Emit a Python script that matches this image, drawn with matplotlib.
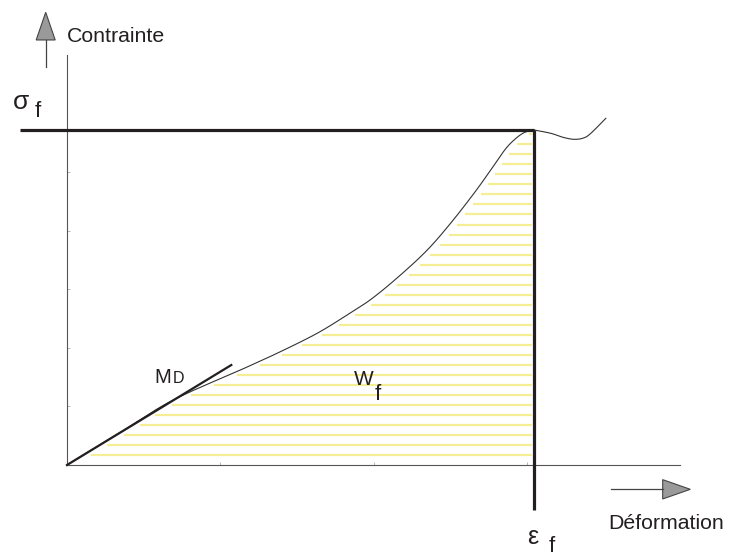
import numpy as np
import matplotlib
matplotlib.use("Agg")
import matplotlib.pyplot as plt
from matplotlib.patches import Polygon

plt.rcParams['font.family'] = ['Liberation Sans', 'DejaVu Sans']

# ---- data (axis units: x ticks 0..4, y ticks 0..7) ----
curve_x = [0.0, 0.346, 0.693, 1.142, 1.392, 1.632, 1.828, 1.990, 2.176, 2.351,
           2.503, 2.656, 2.765, 2.856, 2.917, 2.982, 3.048]
curve_y = [0.0, 0.555, 1.109, 1.633, 1.933, 2.247, 2.560, 2.840, 3.242, 3.669,
           4.125, 4.637, 5.034, 5.375, 5.546, 5.671, 5.717]
tail_x = [3.048, 3.157, 3.240, 3.309, 3.370, 3.418, 3.516]
tail_y = [5.717, 5.660, 5.590, 5.558, 5.580, 5.660, 5.916]
md_x = [0.0, 1.072]
md_y = [0.0, 1.706]
sigma_f = 5.717
eps_f = 3.046
x_ticks = [1, 2, 3]
y_ticks = [1, 2, 3, 4, 5]
stripe_levels = np.arange(1, 34) * 0.171


def smooth(xs, ys, n=20):
    """Catmull-Rom spline through the given points (for drawing only)."""
    p = np.column_stack([xs, ys]).astype(float)
    p = np.vstack([2 * p[0] - p[1], p, 2 * p[-1] - p[-2]])
    out = []
    t = np.linspace(0, 1, n, endpoint=False)[:, None]
    for i in range(1, len(p) - 2):
        p0, p1, p2, p3 = p[i - 1], p[i], p[i + 1], p[i + 2]
        seg = 0.5 * ((2 * p1) + (-p0 + p2) * t + (2 * p0 - 5 * p1 + 4 * p2 - p3) * t ** 2
                     + (-p0 + 3 * p1 - 3 * p2 + p3) * t ** 3)
        out.append(seg)
    out.append(p[-2][None, :])
    out = np.vstack(out)
    return out[:, 0], out[:, 1]


ink = '#231f20'

fig = plt.figure(figsize=(7.29, 5.56), dpi=100)
ax = fig.add_axes([67/729, 1-465/556, (680-67)/729, (465-54.8)/556])
ax.set_xlim(0, 4)
ax.set_ylim(0, 7)
for s in ['top', 'right']:
    ax.spines[s].set_visible(False)
for s in ['left', 'bottom']:
    ax.spines[s].set_color('#555555')
    ax.spines[s].set_linewidth(0.8)
ax.set_xticks(x_ticks)
ax.set_yticks(y_ticks)
ax.tick_params(direction='in', length=2, width=0.5, colors='#999999',
               labelbottom=False, labelleft=False)

sx, sy = smooth(curve_x, curve_y)
tx, ty = smooth(tail_x, tail_y)

# yellow stripes under the curve
for lv in stripe_levels:
    xl = np.interp(lv, sy, sx) + 0.05
    ax.plot([xl, eps_f - 0.015], [lv, lv], color='#f6ee94', lw=1.6,
            solid_capstyle='butt', zorder=1)

# curve
ax.plot(sx, sy, color='#333333', lw=0.8, zorder=3, clip_on=False)
ax.plot(tx, ty, color='#333333', lw=0.8, zorder=3, clip_on=False)
# tangent MD
ax.plot(md_x, md_y, color=ink, lw=1.6, zorder=4, clip_on=False)
# sigma_f line
ax.plot([-0.307, eps_f], [sigma_f, sigma_f], color=ink, lw=2.3, zorder=4,
        clip_on=False, solid_capstyle='butt')
# eps_f line
ax.plot([eps_f, eps_f], [sigma_f, -0.77], color=ink, lw=2.3, zorder=4,
        clip_on=False, solid_capstyle='butt')

# arrows
ax.plot([-0.139, -0.139], [6.797, 7.26], color='#444444', lw=0.9, clip_on=False)
ax.add_patch(Polygon([[-0.201, 7.253], [-0.077, 7.253], [-0.139, 7.725]],
                     closed=True, facecolor='#9a9a9a', edgecolor='#444444',
                     lw=0.8, clip_on=False))
ax.plot([3.549, 3.89], [-0.415, -0.415], color='#444444', lw=0.9, clip_on=False)
ax.add_patch(Polygon([[3.887, -0.25], [3.887, -0.58], [4.067, -0.415]],
                     closed=True, facecolor='#9a9a9a', edgecolor='#444444',
                     lw=0.8, clip_on=False))

tc = '#231f20'
fs = 15.3
ax.text(0.0, 7.304, 'Contrainte', fontsize=fs, color=tc, va='center', ha='left')
ax.text(3.535, -0.99, 'Déformation', fontsize=fs, color=tc, va='center', ha='left')
ax.text(-0.350, 6.075, 'σ', fontsize=19, color=tc, va='baseline', ha='left')
ax.text(-0.209, 5.939, 'f', fontsize=16, color=tc, va='baseline', ha='left')
ax.text(3.003, -1.348, 'ε', fontsize=18, color=tc, va='baseline', ha='left')
ax.text(3.144, -1.49, 'f', fontsize=16, color=tc, va='baseline', ha='left')
ax.text(0.569, 1.405, 'M', fontsize=14.5, color=tc, va='baseline', ha='left')
ax.text(0.688, 1.405, 'D', fontsize=11.5, color=tc, va='baseline', ha='left')
ax.text(1.869, 1.365, 'W', fontsize=15, color=tc, va='baseline', ha='left')
ax.text(2.006, 1.109, 'f', fontsize=16, color=tc, va='baseline', ha='left')

fig.savefig('out.png', dpi=100)
